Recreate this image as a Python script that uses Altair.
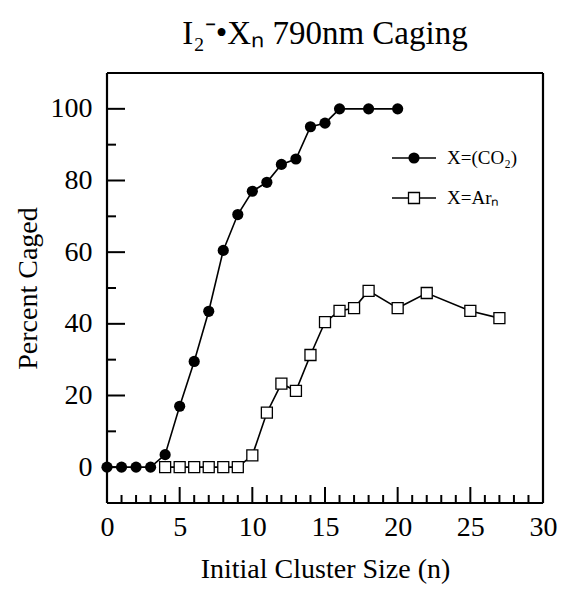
import altair as alt
import pandas as pd

# ---- data ----
co2_n = [0, 1, 2, 3, 4, 5, 6, 7, 8, 9, 10, 11, 12, 13, 14, 15, 16, 18, 20]
co2_pct = [0, 0, 0, 0, 3.5, 17, 29.5, 43.5, 60.5, 70.5, 77, 79.5, 84.5, 86, 95, 96, 100, 100, 100]

ar_n = [4, 5, 6, 7, 8, 9, 10, 11, 12, 13, 14, 15, 16, 17, 18, 20, 22, 25, 27]
ar_pct = [0, 0, 0, 0, 0, 0, 3.3, 15.2, 23.3, 21.3, 31.3, 40.5, 43.6, 44.4, 49.2, 44.4, 48.6, 43.6, 41.6]

x_major = [0, 5, 10, 15, 20, 25, 30]
x_minor = [v for v in range(1, 30) if v % 5 != 0]
y_major = [0, 20, 40, 60, 80, 100]
y_minor = [10, 30, 50, 70, 90]

legend_co2 = ["X=(CO₂)"]
legend_ar = ["X=Arₙ"]

title_text = "I₂⁻•Xₙ 790nm Caging"
x_title = "Initial Cluster Size (n)"
y_title = "Percent Caged"

FONT = "Liberation Serif"
W, H = 436, 430

df_co2 = pd.DataFrame({"n": co2_n, "pct": co2_pct})
df_ar = pd.DataFrame({"n": ar_n, "pct": ar_pct})

x_scale = alt.Scale(domain=[0, 30], nice=False, zero=False)
y_scale = alt.Scale(domain=[-10, 110], nice=False, zero=False)

x_enc = alt.X(
    "n:Q", scale=x_scale,
    axis=alt.Axis(values=x_major, title=x_title, ticks=False, tickSize=0, domain=False,
                  grid=False, labelPadding=10, titlePadding=14, labelFont=FONT,
                  labelFontSize=28, titleFont=FONT, titleFontSize=28,
                  titleFontWeight="normal", labelColor="black", titleColor="black",
                  labelFlush=False, labelOverlap=False),
)
y_enc = alt.Y(
    "pct:Q", scale=y_scale,
    axis=alt.Axis(values=y_major, title=y_title, ticks=False, tickSize=0, domain=False,
                  grid=False, labelPadding=15, titlePadding=8, labelFont=FONT,
                  labelFontSize=28, titleFont=FONT, titleFontSize=28,
                  titleFontWeight="normal", labelColor="black", titleColor="black",
                  labelFlush=False, labelOverlap=False),
)

line_co2 = alt.Chart(df_co2).mark_line(color="black", strokeWidth=1.6).encode(x=x_enc, y=y_enc)
line_ar = alt.Chart(df_ar).mark_line(color="black", strokeWidth=1.6).encode(x=x_enc, y=y_enc)
pts_ar = alt.Chart(df_ar).mark_point(shape="square", filled=True, fill="white", stroke="black",
                                     strokeWidth=1.3, size=121, opacity=1).encode(x=x_enc, y=y_enc)
pts_co2 = alt.Chart(df_co2).mark_circle(color="black", size=125, opacity=1).encode(x=x_enc, y=y_enc)

# inward ticks
df_xmaj = pd.DataFrame({"n": x_major})
df_xmin = pd.DataFrame({"n": x_minor})
df_ymaj = pd.DataFrame({"pct": y_major})
df_ymin = pd.DataFrame({"pct": y_minor})

xt_maj = alt.Chart(df_xmaj).mark_rule(color="black", strokeWidth=2).encode(
    x=x_enc, y=alt.value(H), y2=alt.value(H - 16))
xt_min = alt.Chart(df_xmin).mark_rule(color="black", strokeWidth=2).encode(
    x=x_enc, y=alt.value(H), y2=alt.value(H - 8))
yt_maj = alt.Chart(df_ymaj).mark_rule(color="black", strokeWidth=2).encode(
    y=y_enc, x=alt.value(0), x2=alt.value(18))
yt_min = alt.Chart(df_ymin).mark_rule(color="black", strokeWidth=2).encode(
    y=y_enc, x=alt.value(0), x2=alt.value(9))

# manual legend
df_l1 = pd.DataFrame({"label": legend_co2})
df_l2 = pd.DataFrame({"label": legend_ar})
ly1, ly2 = 85, 125
leg = [
    alt.Chart(df_l1).mark_rule(color="black", strokeWidth=1.6).encode(
        x=alt.value(285), x2=alt.value(329), y=alt.value(ly1)),
    alt.Chart(df_l1).mark_circle(color="black", size=125, opacity=1).encode(
        x=alt.value(307), y=alt.value(ly1)),
    alt.Chart(df_l1).mark_text(align="left", baseline="middle", font=FONT, fontSize=19,
                               color="black").encode(
        x=alt.value(340), y=alt.value(ly1), text="label:N"),
    alt.Chart(df_l2).mark_rule(color="black", strokeWidth=1.6).encode(
        x=alt.value(285), x2=alt.value(329), y=alt.value(ly2)),
    alt.Chart(df_l2).mark_point(shape="square", filled=True, fill="white", stroke="black",
                                strokeWidth=1.3, size=121, opacity=1).encode(
        x=alt.value(307), y=alt.value(ly2)),
    alt.Chart(df_l2).mark_text(align="left", baseline="middle", font=FONT, fontSize=19,
                               color="black").encode(
        x=alt.value(340), y=alt.value(ly2), text="label:N"),
]

# black frame drawn with rules (top, bottom, left, right)
df_one = pd.DataFrame({"k": [0]})
frame = [
    alt.Chart(df_one).mark_rule(color="black", strokeWidth=2.2).encode(
        x=alt.value(0), x2=alt.value(W), y=alt.value(0)),
    alt.Chart(df_one).mark_rule(color="black", strokeWidth=2.2).encode(
        x=alt.value(0), x2=alt.value(W), y=alt.value(H)),
    alt.Chart(df_one).mark_rule(color="black", strokeWidth=2.2).encode(
        x=alt.value(0), y=alt.value(0), y2=alt.value(H)),
    alt.Chart(df_one).mark_rule(color="black", strokeWidth=2.2).encode(
        x=alt.value(W), y=alt.value(0), y2=alt.value(H)),
]

chart = alt.layer(
    xt_maj, xt_min, yt_maj, yt_min, line_co2, line_ar, pts_ar, pts_co2, *leg, *frame
).properties(
    width=W, height=H,
    autosize=alt.AutoSizeParams(type="none"),
    padding={"left": 107, "top": 73, "right": 18, "bottom": 87},
    title=alt.TitleParams(text=title_text, font=FONT, fontSize=33, fontWeight="normal",
                          anchor="middle", offset=-5, baseline="alphabetic", color="black"),
).configure_view(
    stroke="black", strokeWidth=2
).configure(background="white")

chart.save("out.html", embed_options={"renderer": "svg", "actions": False})
